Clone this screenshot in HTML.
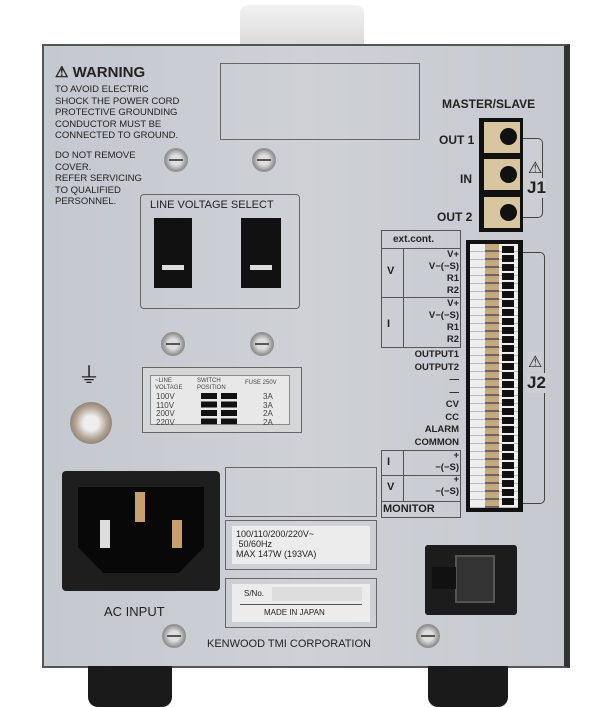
<!DOCTYPE html>
<html><head><style>
body{margin:0;width:615px;height:707px;background:#fff;position:relative;overflow:hidden;font-family:"Liberation Sans",sans-serif;color:#222}
div{position:absolute;box-sizing:border-box}
.t{font-weight:bold;font-size:11px;white-space:nowrap}
.box{border:1.5px solid #666}
.scr{width:24px;height:24px;border-radius:50%;background:radial-gradient(circle,#ddd 30%,#999 60%,#666 100%)}
.scr:after{content:"";position:absolute;left:5px;top:11px;width:14px;height:2px;background:#555}
</style></head><body>
<div style="left:240px;top:5px;width:124px;height:44px;background:linear-gradient(#f2f2f2,#d8d8d8);border-radius:8px 8px 0 0"></div>
<div style="left:42px;top:44px;width:528px;height:624px;background:linear-gradient(90deg,#c4c8cf,#ced1d6 50%,#c6c9cf);border:2px solid #555;border-right:6px solid #333"></div>
<div style="left:88px;top:666px;width:84px;height:41px;background:#1a1a1a;border-radius:0 0 10px 10px"></div>
<div style="left:428px;top:666px;width:80px;height:41px;background:#1a1a1a;border-radius:0 0 10px 10px"></div>
<div class="t" style="left:55px;top:63px;font-size:15px">⚠ WARNING</div>
<div class="t" style="left:55px;top:84px;font-size:9.5px;line-height:11.5px;font-weight:normal">TO AVOID ELECTRIC<br>SHOCK THE POWER CORD<br>PROTECTIVE GROUNDING<br>CONDUCTOR MUST BE<br>CONNECTED TO GROUND.</div>
<div class="t" style="left:55px;top:150px;font-size:9.5px;line-height:11.5px;font-weight:normal">DO NOT REMOVE<br>COVER.<br>REFER SERVICING<br>TO QUALIFIED<br>PERSONNEL.</div>
<div class="box" style="left:220px;top:63px;width:200px;height:77px"></div>
<div class="scr" style="left:164px;top:148px"></div>
<div class="scr" style="left:252px;top:148px"></div>
<div class="box" style="left:140px;top:194px;width:160px;height:115px;border-radius:4px"></div>
<div class="t" style="left:150px;top:199px;font-size:11px;font-weight:normal">LINE VOLTAGE SELECT</div>
<div style="left:154px;top:218px;width:38px;height:70px;background:#111"></div>
<div style="left:162px;top:265px;width:22px;height:5px;background:#ddd"></div>
<div style="left:241px;top:218px;width:40px;height:70px;background:#111"></div>
<div style="left:250px;top:265px;width:22px;height:5px;background:#ddd"></div>
<div class="scr" style="left:161px;top:332px"></div>
<div class="scr" style="left:250px;top:332px"></div>
<div class="t" style="left:78px;top:358px;font-size:22px;font-weight:normal">⏚</div>
<div style="left:70px;top:402px;width:42px;height:42px;border-radius:50%;background:radial-gradient(circle,#eee 25%,#b0a090 55%,#555 100%)"></div>
<div class="box" style="left:142px;top:367px;width:160px;height:66px;background:#d4d6d8"></div>
<div style="left:150px;top:375px;width:140px;height:50px;background:#e8e8e8;border:1px solid #888;font-size:8px;color:#444">
<div style="left:4px;top:2px;font-size:6px;line-height:7px">~LINE<br>VOLTAGE</div>
<div style="left:46px;top:2px;font-size:6px;line-height:7px">SWITCH<br>POSITION</div>
<div style="left:94px;top:4px;font-size:6px">FUSE 250V</div>
<div style="left:5px;top:17px;line-height:8.5px">100V<br>110V<br>200V<br>220V</div>
<div style="left:50px;top:17px;width:16px;height:32px;background:repeating-linear-gradient(#111 0 6px,#e8e8e8 6px 8.5px)"></div>
<div style="left:70px;top:17px;width:16px;height:32px;background:repeating-linear-gradient(#111 0 6px,#e8e8e8 6px 8.5px)"></div>
<div style="left:112px;top:17px;line-height:8.5px">3A<br>3A<br>2A<br>2A</div>
</div>
<div style="left:62px;top:471px;width:158px;height:120px;background:#1e1e1e;border-radius:4px"></div>
<div style="left:78px;top:487px;width:126px;height:86px;background:#080808;clip-path:polygon(0 0,100% 0,100% 70%,80% 100%,20% 100%,0 70%)"></div>
<div style="left:135px;top:492px;width:10px;height:30px;background:#c8a070"></div>
<div style="left:100px;top:520px;width:10px;height:28px;background:#ddd"></div>
<div style="left:172px;top:520px;width:10px;height:28px;background:#c8a070"></div>
<div class="t" style="left:104px;top:604px;font-size:13px;font-weight:normal">AC INPUT</div>
<div class="box" style="left:225px;top:467px;width:152px;height:50px"></div>
<div class="box" style="left:225px;top:520px;width:152px;height:50px"></div>
<div style="left:232px;top:526px;width:138px;height:38px;background:#ececec;font-size:9px;line-height:10px;padding:3px 4px">100/110/200/220V~<br>&nbsp;50/60Hz<br>MAX 147W (193VA)</div>
<div class="box" style="left:225px;top:578px;width:152px;height:50px"></div>
<div style="left:232px;top:584px;width:138px;height:38px;background:#ececec;font-size:8px"><div style="left:12px;top:5px">S/No.</div><div style="left:40px;top:3px;width:90px;height:14px;background:#ddd"></div><div style="left:8px;top:20px;width:122px;height:1px;background:#555"></div><div style="left:32px;top:24px">MADE IN JAPAN</div></div>
<div class="scr" style="left:162px;top:624px"></div>
<div class="scr" style="left:416px;top:624px"></div>
<div class="t" style="left:207px;top:638px;font-size:11px;font-weight:normal">KENWOOD TMI CORPORATION</div>
<div style="left:425px;top:545px;width:92px;height:70px;background:#1c1c1c;border-radius:3px"></div>
<div style="left:455px;top:555px;width:40px;height:48px;background:#333;border:2px solid #555"></div>
<div style="left:432px;top:567px;width:24px;height:22px;background:#111"></div>
<div class="t" style="left:442px;top:97px;font-size:12px">MASTER/SLAVE</div>
<div style="left:479px;top:118px;width:44px;height:114px;background:#111"></div>
<div style="left:484px;top:122px;width:36px;height:31px;background:#d8c6a0"></div>
<div style="left:484px;top:159px;width:36px;height:31px;background:#d8c6a0"></div>
<div style="left:484px;top:197px;width:36px;height:31px;background:#d8c6a0"></div>
<div style="left:500px;top:128px;width:17px;height:17px;border-radius:50%;background:#111"></div>
<div style="left:500px;top:166px;width:17px;height:17px;border-radius:50%;background:#111"></div>
<div style="left:500px;top:204px;width:17px;height:17px;border-radius:50%;background:#111"></div>
<div class="t" style="left:439px;top:133px;font-size:12px">OUT 1</div>
<div class="t" style="left:460px;top:172px;font-size:12px">IN</div>
<div class="t" style="left:437px;top:210px;font-size:12px">OUT 2</div>
<div style="left:523px;top:138px;width:20px;height:80px;border:1.5px solid #444;border-left:none;border-radius:0 5px 5px 0;background:#cbced3"></div>
<div class="t" style="left:528px;top:158px;font-size:16px;font-weight:normal;background:#cbced3">⚠</div>
<div class="t" style="left:527px;top:178px;font-size:17px;background:#cbced3">J1</div>
<div style="left:466px;top:240px;width:57px;height:272px;background:#111"></div>
<div style="left:470px;top:244px;width:48px;height:264px;background:repeating-linear-gradient(#eee 0 7px,#bbb 7px 8px)"></div>
<div style="left:485px;top:244px;width:14px;height:264px;background:repeating-linear-gradient(#c8a878 0 6px,#666 6px 8px)"></div>
<div style="left:502px;top:246px;width:12px;height:260px;background:repeating-linear-gradient(#111 0 7px,#eee 7px 9px)"></div>
<div style="left:523px;top:252px;width:22px;height:252px;border:1.5px solid #444;border-left:none;border-radius:0 5px 5px 0"></div>
<div class="t" style="left:528px;top:352px;font-size:16px;font-weight:normal;background:#cbced3">⚠</div>
<div class="t" style="left:527px;top:373px;font-size:17px;background:#cbced3">J2</div>
<div style="left:381px;top:230px;width:80px;height:30px;border:1px solid #555;border-bottom:none"></div>
<div class="t" style="left:393px;top:234px;font-size:10px">ext.cont.</div>
<div style="left:381px;top:248px;width:80px;height:100px;border:1px solid #555"></div>
<div style="left:381px;top:297px;width:80px;height:1px;background:#555"></div>
<div style="left:403px;top:248px;width:1px;height:100px;background:#555"></div>
<div class="t" style="left:387px;top:265px;font-size:11px">V</div>
<div class="t" style="left:387px;top:318px;font-size:11px">I</div>
<div class="t" style="left:405px;top:249px;width:54px;text-align:right;font-size:9.5px;line-height:12px">V+<br>V−(−S)<br>R1<br>R2</div>
<div class="t" style="left:405px;top:298px;width:54px;text-align:right;font-size:9.5px;line-height:12px">V+<br>V−(−S)<br>R1<br>R2</div>
<div class="t" style="left:380px;top:349px;width:79px;text-align:right;font-size:9.5px;line-height:12.5px">OUTPUT1<br>OUTPUT2<br>—<br>—<br>CV<br>CC<br>ALARM<br>COMMON</div>
<div style="left:381px;top:450px;width:80px;height:68px;border:1px solid #555"></div>
<div style="left:381px;top:475px;width:80px;height:1px;background:#555"></div>
<div style="left:381px;top:501px;width:80px;height:1px;background:#555"></div>
<div style="left:403px;top:450px;width:1px;height:51px;background:#555"></div>
<div class="t" style="left:387px;top:456px;font-size:11px">I</div>
<div class="t" style="left:387px;top:481px;font-size:11px">V</div>
<div class="t" style="left:405px;top:450px;width:54px;text-align:right;font-size:9.5px;line-height:12px">+<br>−(−S)<br>+<br>−(−S)</div>
<div class="t" style="left:383px;top:503px;font-size:11px">MONITOR</div>
</body></html>
